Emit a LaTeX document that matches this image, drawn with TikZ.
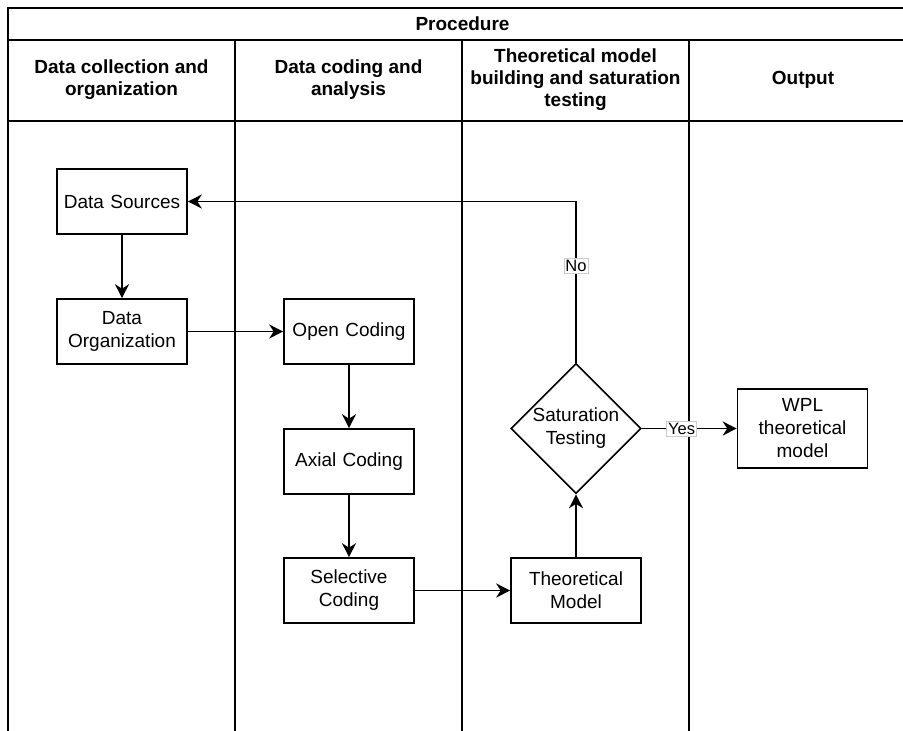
\documentclass[tikz,border=0pt]{standalone}
\usepackage{fontspec}
\setmainfont{Liberation Sans}
\usetikzlibrary{arrows.meta,shapes.geometric}

\begin{document}
\begin{tikzpicture}
[x=1pt, y=-1pt, line width=1.6pt,
>={Stealth[length=14pt,width=14pt,inset=4.5pt]},
% STYLES
every node/.style={font=\fontsize{19}{23}\selectfont},
% The stage style is used for the process boxes
stage/.style={rectangle, draw, fill=white, inner sep=3pt, text width=124pt, align=center, minimum width=130pt, minimum height=65pt},
% The check style is used for the decision
check/.style={diamond, draw, fill=white, inner sep=0pt, aspect=1, minimum size=130pt, align=center},
% The lane style is used for the column titles
lane/.style={font=\fontsize{19}{22}\selectfont\bfseries, align=center},
% The answer style is used for the yes/no labels
answer/.style={font=\fontsize{16.5}{18}\selectfont, fill=white, draw=black!20, line width=0.5pt, inner sep=1.5pt}]

\useasboundingbox (0,0) rectangle (903,731);

% Draw lanes
\draw (903,8) -- (8,8) -- (8,731);
\draw (8,40) -- (903,40);
\draw (8,121) -- (903,121);
\foreach \lx in {235,462,689}
  \draw (\lx,40) -- (\lx,731);

\node [lane] (proc) at (462.5,24) {Procedure};
\node [lane] (lanea) at (121.5,80) {Data collection and\\organization};
\node [lane] (laneb) at (348.5,80) {Data coding and\\analysis};
\node [lane] (lanec) at (575.5,80) {Theoretical model\\building and saturation\\testing};
\node [lane] (laned) at (803,80) {Output};

% Draw stages
\node [stage] (sources) at (122,201.5) {Data Sources};
\node [stage] (organize) at (122,331.5) {Data\\Organization};
\node [stage] (open) at (349,331.5) {Open Coding};
\node [stage] (axial) at (349,461.5) {Axial Coding};
\node [stage] (selective) at (349,590.5) {Selective\\Coding};
\node [stage] (theory) at (576,590.5) {Theoretical\\Model};
\node [check] (saturation) at (576,428.5) {Saturation\\Testing};
\node [stage, minimum height=79pt] (wpl) at (802.5,428.5) {WPL\\theoretical\\model};

\draw [->] (sources) -- (organize);
\draw [->] (organize) -- (open);
\draw [->] (open) -- (axial);
\draw [->] (axial) -- (selective);
\draw [->] (selective) -- (theory);
\draw [->] (theory) -- (saturation);
\draw [->] (saturation) -- node [answer, pos=0.42] {Yes} (wpl);
\draw [->] (saturation.north) |- node [answer, pos=0.3] {No} (sources.east);

\end{tikzpicture}
\end{document}
